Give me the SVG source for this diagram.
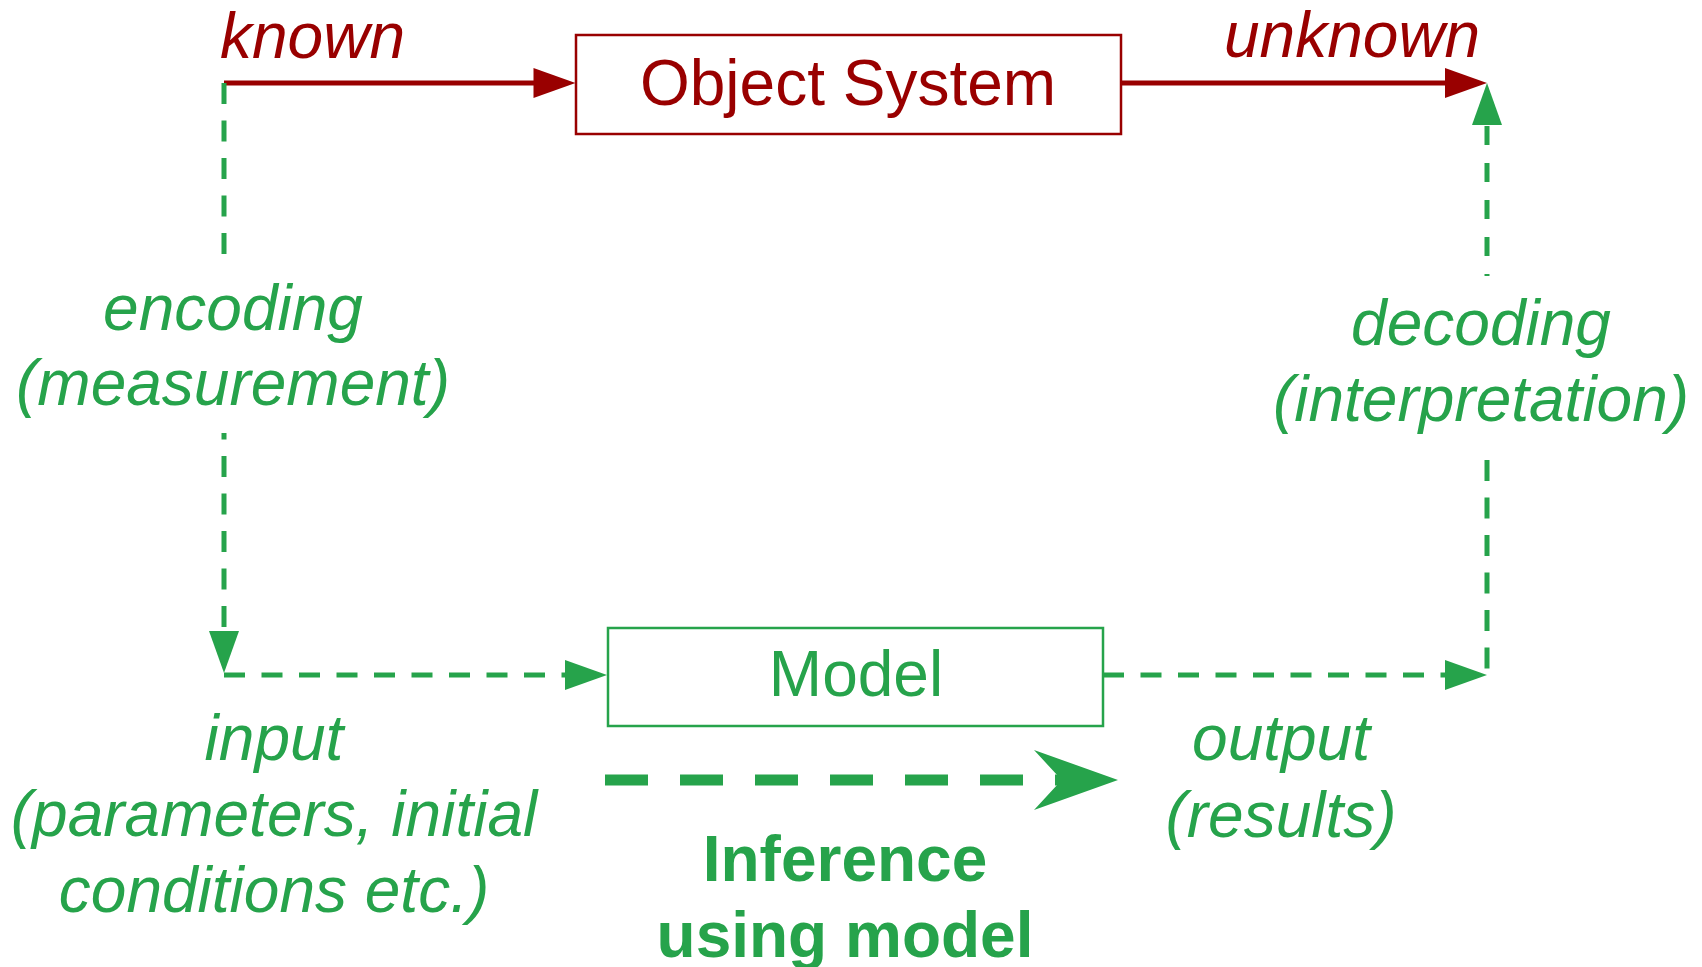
<svg xmlns="http://www.w3.org/2000/svg" xmlns:xlink="http://www.w3.org/1999/xlink" width="1702" height="967" viewBox="0 0 1702 967">
  <style>
    .txt { font-family: "Liberation Sans", Arial, sans-serif; font-size: 64px; }
    .red { fill: #990000; }
    .grn { fill: #26a34b; }
    .it { font-style: italic; }
    .bold { font-weight: bold; font-size: 64px; }
    .box-red { fill: #ffffff; stroke: #990000; stroke-width: 2.5; }
    .box-grn { fill: #ffffff; stroke: #26a34b; stroke-width: 2.5; }
    .line-red { fill: none; stroke: #990000; stroke-width: 5; }
    .line-grn { fill: none; stroke: #26a34b; stroke-width: 5; stroke-dasharray: 21 16.5; }
    .line-inf { fill: none; stroke: #26a34b; stroke-width: 11; stroke-dasharray: 43 32; }
  </style>
  <defs>
    <!-- triangular head, tip at origin, pointing along +x -->
    <path id="head-red" d="M0,0 L-42,-15 L-42,15 Z" fill="#990000"/>
    <path id="head-grn" d="M0,0 L-42,-15 L-42,15 Z" fill="#26a34b"/>
    <!-- open chevron head for the inference arrow -->
    <path id="head-inf" d="M0,0 L-84,-30 L-60,-4 L-60,4 L-84,30 Z" fill="#26a34b"/>
  </defs>

  <rect width="1702" height="967" fill="#ffffff"/>

  <g id="connectors">
    <!-- known -> Object System -> unknown -->
    <path class="line-red" d="M224,83 H534"/>
    <use xlink:href="#head-red" transform="translate(575.5,83)"/>
    <path class="line-red" d="M1121,83 H1446"/>
    <use xlink:href="#head-red" transform="translate(1487,83)"/>

    <!-- encoding (measurement) -->
    <path class="line-grn" d="M224,83 V254"/>
    <path class="line-grn" d="M224,627 V433"/>
    <use xlink:href="#head-grn" transform="translate(224,673) rotate(90)"/>

    <!-- input -> Model -->
    <path class="line-grn" d="M224,675 H566"/>
    <use xlink:href="#head-grn" transform="translate(607,675)"/>

    <!-- Model -> output -->
    <path class="line-grn" d="M1103,675 H1446"/>
    <use xlink:href="#head-grn" transform="translate(1487,675)"/>

    <!-- decoding (interpretation) -->
    <path class="line-grn" d="M1487,460 V675"/>
    <path class="line-grn" style="stroke-dasharray: 19 18" d="M1487,126 V276"/>
    <use xlink:href="#head-grn" transform="translate(1487,83) rotate(-90)"/>

    <!-- inference using model -->
    <path class="line-inf" d="M605,780 H1070"/>
    <use xlink:href="#head-inf" transform="translate(1118,780)"/>
  </g>

  <g id="object-system">
    <rect class="box-red" x="576" y="35" width="545" height="99"/>
    <text class="txt red" x="848" y="105" text-anchor="middle" font-size="64.5">Object System</text>
  </g>

  <g id="model">
    <rect class="box-grn" x="608" y="628" width="495" height="98"/>
    <text class="txt grn" x="856" y="696" text-anchor="middle">Model</text>
  </g>

  <g id="label-known">
    <text class="txt red it" x="220" y="58">known</text>
  </g>

  <g id="label-unknown">
    <text class="txt red it" x="1224" y="57">unknown</text>
  </g>

  <g id="label-encoding">
    <text class="txt grn it" text-anchor="middle" x="233" y="330">encoding</text>
    <text class="txt grn it" text-anchor="middle" x="233" y="405">(measurement)</text>
  </g>

  <g id="label-decoding">
    <text class="txt grn it" text-anchor="middle" x="1481" y="345">decoding</text>
    <text class="txt grn it" text-anchor="middle" x="1481" y="421">(interpretation)</text>
  </g>

  <g id="label-input">
    <text class="txt grn it" text-anchor="middle" x="274" y="760">input</text>
    <text class="txt grn it" text-anchor="middle" x="274" y="836">(parameters, initial</text>
    <text class="txt grn it" text-anchor="middle" x="274" y="912">conditions etc.)</text>
  </g>

  <g id="label-output">
    <text class="txt grn it" text-anchor="middle" x="1281" y="760">output</text>
    <text class="txt grn it" text-anchor="middle" x="1281" y="837">(results)</text>
  </g>

  <g id="label-inference">
    <text class="txt grn bold" text-anchor="middle" x="845" y="881">Inference</text>
    <text class="txt grn bold" text-anchor="middle" x="845" y="957">using model</text>
  </g>
</svg>
